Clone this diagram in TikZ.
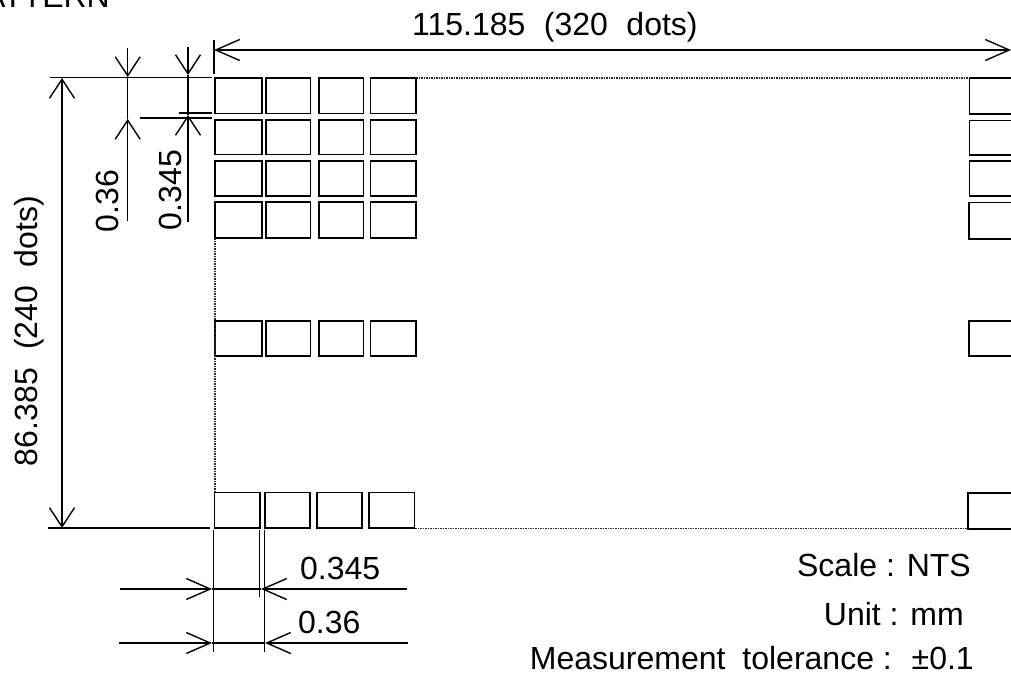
\documentclass[tikz,border=0pt]{standalone}
\usepackage{fontspec}
\setmainfont{Liberation Sans}
\usetikzlibrary{arrows.meta}
\tikzset{
 x=1pt,y=-1pt,
 pad/.style={line width=1.5pt,draw=black},
 dim/.style={line width=1.4pt,draw=black},
 ext/.style={line width=1.4pt,draw=black},
 dots/.style={line width=1.1pt,draw=black!85,dash pattern=on 1.5pt off 1pt},
 hbarb/.tip={Straight Barb[length=24pt,width=21pt,line width=1.4pt]},
 vbarb/.tip={Straight Barb[length=19pt,width=25pt,line width=1.4pt]},
 txt/.style={font=\fontsize{32}{36}\selectfont,inner sep=0pt,anchor=base west},
 rtxt/.style={font=\fontsize{32}{36}\selectfont,inner sep=0pt,rotate=90,anchor=base},
}
\begin{document}
\begin{tikzpicture}
\useasboundingbox (0,0) rectangle (1011,674);
\clip (0,0) rectangle (1011,674);
\fill[white] (0,0) rectangle (1011,674);
% pads
\foreach \yt/\yb in {78/113.5,120/154.5,161/196,202/238,321/356}{
  \foreach \xl/\xr in {215/262,266/310.5,319/363.5,370.5/416}{
    \draw[pad] (\xl,\yt) rectangle (\xr,\yb);
  }
}
\foreach \xl/\xr in {214.5/260,265/310,317/362,369/414.5}{
  \draw[pad] (\xl,492.5) rectangle (\xr,528);
}
\foreach \xl/\yt/\yb in {969.5/78/114,969.5/120.5/155,969.5/161/196,969/202.5/239,969/321/356,968/493/529}{
  \draw[pad] (1013,\yt) -- (\xl,\yt) -- (\xl,\yb) -- (1013,\yb);
}
% dotted outline
\draw[dots] (416,78) -- (969,78);
\draw[dots] (415,528.5) -- (968,528.5);
\draw[dots] (215,238) -- (215,492);
% coordinates
\coordinate (tl) at (214,50);
\coordinate (tr) at (1011,50);
\coordinate (lt) at (62,78);
\coordinate (lb) at (62,528);
% extension lines
\draw[ext] (214,40) -- (214,74);
\draw[ext] (50,77.6) -- (212,77.6);
\draw[ext] (48,528) -- (210,528);
\draw[ext] (140,118) -- (212,118);
\draw[ext] (179,113) -- (212,113);
\draw[ext] (213.5,530) -- (213.5,652);
\draw[ext] (259.5,530) -- (259.5,597);
\draw[ext] (264.5,530) -- (264.5,652);
% dimensions
\draw[dim,{hbarb}-{hbarb}] (tl) -- (tr);
\draw[dim,{vbarb}-{vbarb}] (lt) -- (lb);
\draw[dim,-{vbarb}] (127.7,48) -- (127.7,77);
\draw[dim,-{vbarb}] (127.7,221) -- (127.7,119);
\draw[dim] (127.7,77) -- (127.7,119);
\draw[dim,-{vbarb}] (188,47) -- (188,75);
\draw[dim,-{vbarb}] (188,222) -- (188,115);
\draw[dim] (188,75) -- (188,115);
\draw[dim,-{hbarb}] (120,589) -- (212,589);
\draw[dim,-{hbarb}] (407,589) -- (261,589);
\draw[dim] (212,589) -- (261,589);
\draw[dim,-{hbarb}] (119,643) -- (212,643);
\draw[dim,-{hbarb}] (408,643) -- (265,643);
\draw[dim] (212,643) -- (265,643);
% texts
\node[txt,anchor=base east] (pattern) at (110,8) {ATTERN};
\node[txt] (width) at (412,36) {115.185\hspace{0.3em} (320\hspace{0.3em} dots)};
\node[rtxt] (height) at (37,331) {86.385\hspace{0.3em} (240\hspace{0.3em} dots)};
\node[rtxt] (a) at (118,201) {0.36};
\node[rtxt] (b) at (181,190) {0.345};
\node[txt] (c) at (300,579) {0.345};
\node[txt] (d) at (298,633) {0.36};
\node[txt,anchor=base east] (e) at (971,576) {Scale : NTS};
\node[txt,anchor=base east] (f) at (964,625) {Unit : mm};
\node[txt,anchor=base east] (g) at (974,669) {Measurement\hspace{0.25em} tolerance :\hspace{0.25em} ±0.1};
\end{tikzpicture}
\end{document}
